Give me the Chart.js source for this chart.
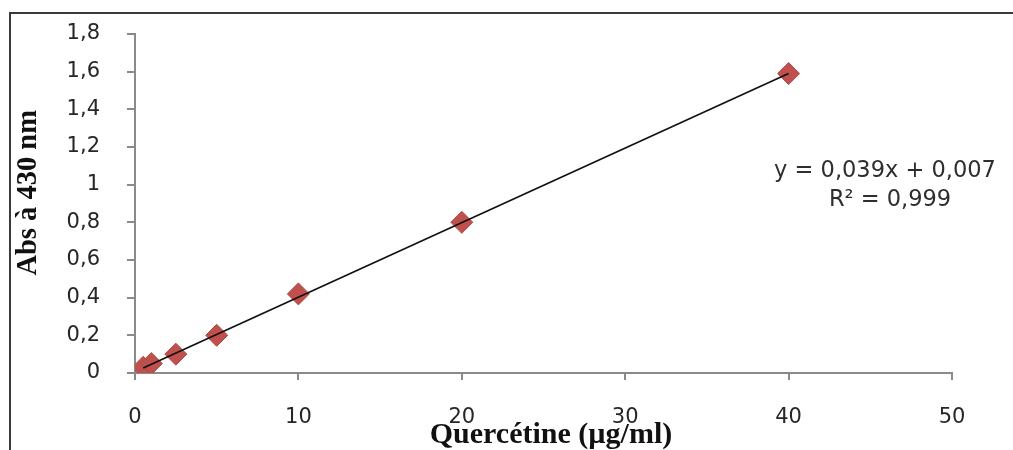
<!DOCTYPE html>
<html>
<head>
<meta charset="utf-8">
<script src="https://cdn.jsdelivr.net/npm/chart.js@4/dist/chart.umd.min.js"></script>
<style>
  html, body { margin: 0; padding: 0; background: #fff; }
  #wrap { width: 1013px; height: 450px; position: relative; }
</style>
</head>
<body>
<div id="wrap"><canvas id="chart" width="1013" height="450"></canvas></div>
<script>
// Concentrations (x) and absorbances (y)
var concentrations = [0.5, 1, 2.5, 5, 10, 20, 40];
var absorbances = [0.03, 0.05, 0.1, 0.2, 0.42, 0.8, 1.59];

// Trendline end points as drawn
var trendX = [0.5, 40];
var trendY = [0.027, 1.59];

var equationLines = ["y = 0,039x + 0,007", "R\u00b2 = 0,999"];

var points = concentrations.map(function (c, i) { return { x: c, y: absorbances[i] }; });
var trend = trendX.map(function (c, i) { return { x: c, y: trendY[i] }; });

//Draws the outer frame and the regression equation
var extras = {
    id: 'extras',
    beforeDraw: function (chart) {
        var ctx = chart.ctx;
        ctx.save();
        ctx.fillStyle = '#fff';
        ctx.fillRect(0, 0, chart.width, chart.height);
        ctx.strokeStyle = '#3a3a3a';
        ctx.lineWidth = 2;
        ctx.beginPath();
        ctx.moveTo(10, chart.height);
        ctx.lineTo(10, 13);
        ctx.lineTo(chart.width, 13);
        ctx.stroke();
        ctx.restore();
    },
    afterDraw: function (chart) {
        var ctx = chart.ctx;
        ctx.save();
        ctx.fillStyle = '#2e2e2e';
        ctx.font = '22.5px "DejaVu Sans"';
        ctx.textAlign = 'center';
        ctx.textBaseline = 'middle';
        ctx.fillText(equationLines[0], 885, 171);
        ctx.fillText(equationLines[1], 890, 200);
        ctx.restore();
    }
};

var tickFont = { family: '"DejaVu Sans"', size: 21 };
var serif = '"Liberation Serif", "Times New Roman", serif';

new Chart(document.getElementById('chart'), {
    type: 'scatter',
    data: {
        datasets: [{
            type: 'line',
            data: trend,
            borderColor: '#111',
            borderWidth: 1.7,
            pointRadius: 0,
            order: 0
        }, {
            data: points,
            pointStyle: 'rectRot',
            pointRadius: 11,
            pointHoverRadius: 11,
            backgroundColor: '#C0504D',
            borderColor: '#B04A47',
            borderWidth: 1,
            order: 1
        }]
    },
    options: {
        responsive: false,
        animation: false,
        layout: { padding: { left: 10, top: 34, right: 61, bottom: 0 } },
        plugins: { legend: { display: false }, tooltip: { enabled: false } },
        scales: {
            x: {
                type: 'linear',
                min: 0,
                max: 50,
                ticks: { stepSize: 10, font: tickFont, color: '#262626', padding: 25 },
                grid: { drawOnChartArea: false, tickLength: 7, tickColor: '#8a8a8a', lineWidth: 2 },
                border: { color: '#8a8a8a', width: 2 },
                title: {
                    display: true,
                    text: '  Quercétine (µg/ml)',
                    font: { family: serif, size: 30, weight: 'bold', lineHeight: 1 },
                    color: '#111',
                    padding: { top: -6, bottom: 0 }
                },
                afterFit: function (scale) { scale.height = 77; }
            },
            y: {
                type: 'linear',
                min: 0,
                max: 1.8,
                ticks: {
                    stepSize: 0.2,
                    font: tickFont,
                    color: '#262626',
                    padding: 27,
                    callback: function (v) { return String(Math.round(v * 10) / 10).replace('.', ','); }
                },
                grid: { drawOnChartArea: false, tickLength: 8, tickColor: '#8a8a8a', lineWidth: 2 },
                border: { color: '#8a8a8a', width: 2 },
                title: {
                    display: true,
                    text: '   Abs à 430 nm',
                    font: { family: serif, size: 28.5, weight: 'bold', lineHeight: 1 },
                    color: '#111',
                    padding: { top: 4 }
                },
                //the tick padding gets added on top of the plot too, so drop it there
                afterFit: function (scale) {
                    scale.width = 125;
                    scale.paddingTop = 0;
                    scale.paddingBottom = 0;
                }
            }
        }
    },
    plugins: [extras]
});
</script>
</body>
</html>
